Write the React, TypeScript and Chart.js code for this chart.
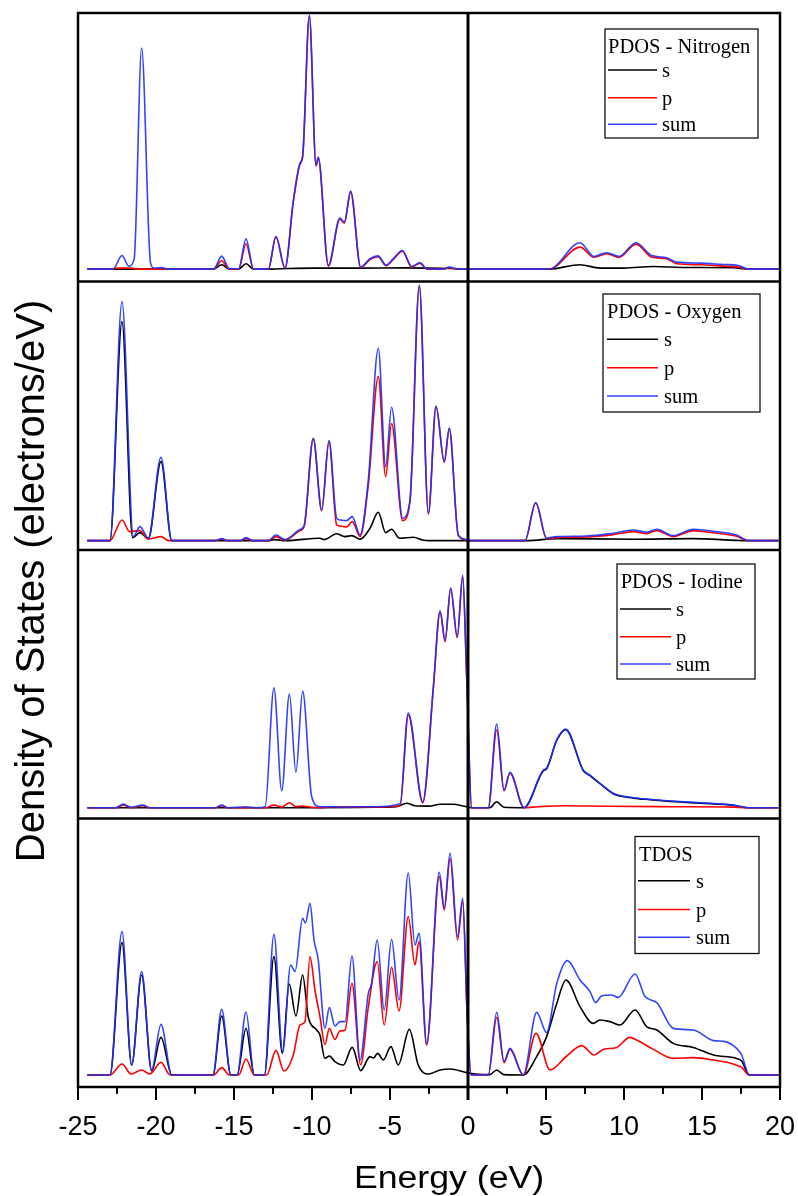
import { useEffect, useRef } from "react";
import { Chart, registerables } from "chart.js";

Chart.register(...registerables);

type Pt = [number, number];

// Energy axis (eV)
const energyMin = -25;
const energyMax = 20;
const energyStep = 5;

// ---- Nitrogen PDOS: [energy (eV), DOS] ----
const nitrogenS: Pt[] = [
  [-24.4, 0], [-16.3, 0], [-15.79, 0.22], [-15.3, 0], [-14.7, 0], [-14.23, 0.27], [-13.75, 0],
  [-12.6, 0], [-11.5, 0.03], [-10, 0.05], [-7, 0.05], [-4, 0.06], [-1, 0.03], [0, 0],
  [5.2, 0], [7.18, 0.22], [8.46, 0.05], [10, 0.05], [11.86, 0.13], [14, 0.08], [17, 0.07],
  [17.97, 0], [19.9, 0],
];
const nitrogenP: Pt[] = [
  [-24.4, 0], [-22.8, 0], [-22.5, 0.05], [-21.6, 0.05], [-21.3, 0], [-16.3, 0], [-15.79, 0.42],
  [-15.3, 0], [-14.7, 0], [-14.23, 1.27], [-13.75, 0], [-12.8, 0], [-12.31, 1.6], [-11.73, 0.04],
  [-11.2, 3.35], [-10.77, 5.25], [-10.6, 5.6], [-10.17, 12.65], [-9.74, 5.15], [-9.6, 5.55],
  [-8.95, 0.15], [-8.21, 2.5], [-7.93, 2.3], [-7.52, 3.85], [-6.88, 0.07], [-6.28, 0.48],
  [-5.77, 0.62], [-5.25, 0.17], [-4.79, 0.48], [-4.21, 0.9], [-3.61, 0.1], [-3.08, 0.3],
  [-2.65, 0], [-1.6, 0], [-1.2, 0.07], [-0.72, 0], [5.2, 0], [7.18, 1.1], [8.08, 0.6],
  [8.89, 0.77], [9.68, 0.58], [10.77, 1.25], [11.77, 0.6], [12.73, 0.52], [13.37, 0.27],
  [14.87, 0.22], [16.37, 0.15], [17.33, 0.1], [17.97, 0], [19.9, 0],
];
const nitrogenSum: Pt[] = [
  [-24.4, 0], [-22.75, 0], [-22.18, 0.68], [-21.75, 0.15], [-21.4, 0.5], [-20.92, 11.05],
  [-20.35, 0.3], [-20.1, 0.05], [-19.64, 0.08], [-19.3, 0], [-16.3, 0], [-15.79, 0.65],
  [-15.3, 0.02], [-14.7, 0.02], [-14.23, 1.52], [-13.75, 0], [-12.8, 0], [-12.31, 1.63],
  [-11.73, 0.05], [-11.2, 3.4], [-10.77, 5.3], [-10.6, 5.65], [-10.17, 12.7], [-9.74, 5.2],
  [-9.6, 5.6], [-8.95, 0.19], [-8.21, 2.55], [-7.93, 2.35], [-7.52, 3.9], [-6.88, 0.1],
  [-6.28, 0.52], [-5.77, 0.66], [-5.25, 0.2], [-4.79, 0.52], [-4.21, 0.93], [-3.61, 0.13],
  [-3.08, 0.32], [-2.65, 0.02], [-1.6, 0], [-1.2, 0.1], [-0.72, 0.01], [0, 0], [5.2, 0],
  [7.18, 1.32], [8.08, 0.63], [8.89, 0.82], [9.68, 0.63], [10.77, 1.32], [11.77, 0.68],
  [12.73, 0.57], [13.37, 0.35], [14.87, 0.3], [16.37, 0.23], [17.33, 0.18], [17.97, 0], [19.9, 0],
];

// ---- Oxygen PDOS ----
const oxygenS: Pt[] = [
  [-24.4, 0], [-22.95, 0], [-22.18, 10.95], [-21.5, 0.15], [-21.03, 0.4], [-20.49, 0.1],
  [-19.68, 3.95], [-18.99, 0], [-12.8, 0], [-12.4, 0.05], [-11.7, 0], [-9.5, 0.12], [-9.2, 0.05],
  [-8.42, 0.34], [-7.9, 0.2], [-7.45, 0.25], [-6.92, 0.07], [-6.28, 0.62], [-5.75, 1.42],
  [-5.28, 0.4], [-4.9, 0.57], [-4.4, 0.12], [-3.5, 0.17], [-2.9, 0.03], [-2.5, 0], [3.8, 0],
  [5.7, 0.1], [10.6, 0.07], [14.4, 0.1], [17.97, 0], [19.9, 0],
];
const oxygenP: Pt[] = [
  [-24.4, 0], [-22.95, 0], [-22.18, 1.03], [-21.7, 0.45], [-21.03, 0.5], [-20.5, 0.08],
  [-19.68, 0.2], [-19.2, 0], [-16.2, 0], [-15.79, 0.08], [-15.4, 0], [-14.6, 0], [-14.23, 0.1],
  [-13.8, 0], [-12.8, 0], [-12.31, 0.2], [-11.73, 0.03], [-10.77, 0.5], [-10.5, 0.72],
  [-9.92, 5.1], [-9.38, 1.5], [-8.91, 4.97], [-8.42, 0.78], [-8.21, 0.73], [-7.78, 0.68],
  [-7.42, 0.95], [-6.92, 0.2], [-6.39, 2.8], [-5.75, 8.2], [-5.28, 3.2], [-4.9, 5.85],
  [-4.19, 1.0], [-3.72, 1.95], [-3.12, 12.7], [-2.54, 1.33], [-2.05, 6.7], [-1.52, 3.92],
  [-1.2, 5.6], [-0.62, 0.25], [-0.08, 0.03], [0, 0], [3.65, 0], [4.34, 1.88], [5.04, 0.1],
  [5.69, 0.15], [7.6, 0.18], [9.31, 0.3], [10.6, 0.45], [11.45, 0.35], [12.1, 0.5],
  [13.16, 0.2], [14.44, 0.5], [15.83, 0.38], [17.22, 0.22], [17.97, 0], [19.9, 0],
];
const oxygenSum: Pt[] = [
  [-24.4, 0], [-22.95, 0], [-22.18, 11.95], [-21.45, 0.2], [-21.03, 0.7], [-20.49, 0.12],
  [-19.68, 4.17], [-18.99, 0], [-16.2, 0], [-15.79, 0.1], [-15.4, 0], [-14.6, 0], [-14.23, 0.15],
  [-13.8, 0], [-12.8, 0], [-12.31, 0.28], [-11.73, 0.05], [-10.77, 0.55], [-10.5, 0.75],
  [-9.92, 5.12], [-9.38, 1.53], [-8.91, 5.0], [-8.42, 1.12], [-8.21, 1.03], [-7.78, 1.0],
  [-7.42, 1.2], [-6.92, 0.28], [-6.39, 3.03], [-5.75, 9.62], [-5.28, 3.7], [-4.9, 6.67],
  [-4.19, 1.12], [-3.72, 2.03], [-3.12, 12.78], [-2.54, 1.37], [-2.05, 6.73], [-1.52, 3.95],
  [-1.2, 5.62], [-0.62, 0.28], [-0.08, 0.05], [0, 0], [3.65, 0], [4.34, 1.9], [5.04, 0.12],
  [5.69, 0.2], [7.6, 0.23], [9.31, 0.37], [10.6, 0.53], [11.45, 0.42], [12.1, 0.57],
  [13.16, 0.25], [14.44, 0.57], [15.83, 0.45], [17.22, 0.28], [17.97, 0], [19.9, 0],
];

// ---- Iodine PDOS ----
const iodineS: Pt[] = [
  [-24.4, 0], [-9.5, 0], [-6, 0.02], [-4.6, 0.05], [-3.93, 0.22], [-3.4, 0.1], [-2.5, 0.08],
  [-1.8, 0.17], [-1.0, 0.17], [-0.1, 0.05], [0.3, 0], [1.4, 0], [1.84, 0.3], [2.3, 0.02],
  [3.59, 0], [4.83, 1.85], [5.04, 1.95], [5.68, 3.35], [6.26, 3.9], [7.39, 1.85], [7.82, 1.6],
  [8.46, 1.2], [9.31, 0.7], [10.6, 0.48], [11.67, 0.4], [12.74, 0.33], [14.87, 0.23],
  [17.01, 0.12], [17.97, 0], [19.9, 0],
];
const iodineP: Pt[] = [
  [-24.4, 0], [-22.6, 0], [-22.09, 0.12], [-21.6, 0], [-20.85, 0.1], [-20.4, 0], [-16.2, 0],
  [-15.79, 0.1], [-15.4, 0], [-13.0, 0], [-12.44, 0.13], [-11.94, 0.03], [-11.45, 0.25],
  [-11.03, 0.05], [-10.6, 0.08], [-10.02, 0.02], [-9.5, 0], [-8.67, 0.05], [-7.5, 0.04],
  [-6, 0.04], [-4.35, 0.1], [-3.83, 4.63], [-2.9, 0.25], [-2.22, 6.0], [-1.79, 9.8],
  [-1.47, 8.3], [-1.11, 10.95], [-0.69, 8.5], [-0.34, 11.55], [-0.09, 6.65], [0.24, 0],
  [1.3, 0], [1.84, 3.9], [2.31, 0.85], [2.69, 1.72], [3.59, 0], [4.5, 0.05], [6.26, 0.1],
  [9, 0.07], [13, 0.05], [17, 0.03], [17.97, 0], [19.9, 0],
];
const iodineSum: Pt[] = [
  [-24.4, 0], [-22.6, 0], [-22.09, 0.18], [-21.6, 0.02], [-20.85, 0.13], [-20.4, 0],
  [-16.2, 0], [-15.79, 0.13], [-15.4, 0], [-14.23, 0.05], [-13.6, 0], [-13.0, 0.05],
  [-12.44, 6.0], [-11.94, 0.85], [-11.45, 5.68], [-11.03, 1.77], [-10.6, 5.83], [-10.02, 0.55],
  [-9.49, 0.05], [-8.67, 0.05], [-8, 0.02], [-7.5, 0.05], [-6, 0.05], [-4.35, 0.2],
  [-3.83, 4.75], [-2.9, 0.3], [-2.22, 6.05], [-1.79, 9.85], [-1.47, 8.38], [-1.11, 11.0],
  [-0.69, 8.55], [-0.34, 11.63], [-0.09, 6.7], [0.24, 0], [1.3, 0], [1.84, 4.18], [2.31, 0.88],
  [2.69, 1.77], [3.59, 0], [4.83, 1.88], [5.04, 1.97], [5.68, 3.38], [6.26, 3.93], [7.39, 1.88],
  [7.82, 1.63], [8.46, 1.22], [9.31, 0.72], [10.6, 0.5], [11.67, 0.42], [12.74, 0.35],
  [14.87, 0.25], [17.01, 0.13], [17.97, 0], [19.9, 0],
];

// ---- Total DOS ----
const totalS: Pt[] = [
  [-24.4, 0], [-22.95, 0], [-22.18, 6.62], [-21.56, 0.5], [-20.92, 5.0], [-20.28, 0.2],
  [-19.68, 1.88], [-18.99, 0], [-16.35, 0], [-15.79, 2.95], [-15.2, 0], [-14.8, 0],
  [-14.23, 2.33], [-13.7, 0], [-13.05, 0], [-12.44, 5.92], [-11.9, 1.08], [-11.46, 4.55],
  [-11.03, 2.95], [-10.6, 5.0], [-10.24, 2.9], [-9.7, 2.25], [-9.49, 2.0], [-9.17, 0.83],
  [-8.89, 0.95], [-8.53, 0.67], [-8.0, 0.5], [-7.42, 1.38], [-6.88, 0.22], [-6.28, 0.92],
  [-6.07, 0.85], [-5.79, 1.08], [-5.43, 0.75], [-4.94, 1.42], [-4.47, 0.5], [-3.76, 2.28],
  [-3.19, 0.5], [-2.54, 0.05], [-1.79, 0.25], [-1.15, 0.3], [-0.08, 0.12], [0.5, 0.05],
  [1.4, 0.02], [1.84, 0.25], [2.3, 0.02], [3.55, 0], [4.4, 0.92], [5.04, 1.92], [5.69, 3.58],
  [6.28, 4.75], [7.18, 3.42], [8.03, 2.58], [8.46, 2.75], [9.1, 2.67], [9.74, 2.5],
  [10.71, 3.25], [11.45, 2.42], [12.1, 2.25], [13.16, 1.58], [14.44, 1.38], [15.73, 1.0],
  [17.22, 0.83], [17.54, 0.7], [18.03, 0], [19.9, 0],
];
const totalP: Pt[] = [
  [-24.4, 0], [-22.95, 0], [-22.18, 0.55], [-21.6, 0.05], [-20.92, 0.25], [-20.4, 0.05],
  [-19.68, 0.63], [-19.1, 0], [-16.3, 0], [-15.79, 0.37], [-15.3, 0], [-14.7, 0], [-14.23, 0.8],
  [-13.7, 0], [-12.9, 0], [-12.31, 1.23], [-11.8, 0.2], [-11.2, 1.0], [-10.77, 2.5],
  [-10.45, 2.67], [-10.13, 5.92], [-9.81, 4.25], [-9.49, 2.92], [-9.17, 1.53], [-8.89, 2.33],
  [-8.53, 1.78], [-8.21, 2.2], [-7.88, 2.25], [-7.44, 4.58], [-6.88, 0.5], [-6.39, 3.4],
  [-5.82, 5.67], [-5.37, 2.5], [-4.9, 5.38], [-4.42, 3.2], [-3.83, 7.92], [-3.4, 5.5],
  [-3.14, 6.67], [-2.65, 1.5], [-1.84, 9.92], [-1.52, 8.25], [-1.15, 10.83], [-0.67, 6.75],
  [-0.34, 8.67], [-0.05, 2.9], [0.2, 0], [1.3, 0], [1.84, 2.88], [2.31, 0.62], [2.69, 1.28],
  [3.55, 0], [4.36, 2.08], [5.26, 0.25], [6.33, 0.95], [7.29, 1.47], [8.08, 1.0], [8.67, 1.28],
  [9.53, 1.38], [10.38, 1.88], [10.81, 1.75], [11.88, 1.28], [13.16, 0.83], [14.44, 0.87],
  [15.73, 0.75], [17.0, 0.55], [17.54, 0.38], [18.03, 0], [19.9, 0],
];
const totalSum: Pt[] = [
  [-24.4, 0], [-22.95, 0], [-22.18, 7.17], [-21.56, 0.5], [-20.92, 5.17], [-20.28, 0.25],
  [-19.68, 2.53], [-18.99, 0], [-16.35, 0], [-15.79, 3.28], [-15.2, 0], [-14.8, 0],
  [-14.23, 3.15], [-13.7, 0], [-13.05, 0], [-12.44, 7.03], [-11.88, 1.17], [-11.37, 5.5],
  [-11.09, 5.17], [-10.6, 7.83], [-10.42, 7.6], [-10.13, 8.58], [-9.87, 6.75], [-9.6, 5.75],
  [-9.17, 2.33], [-8.89, 3.37], [-8.53, 2.45], [-8.21, 2.67], [-7.88, 2.67], [-7.44, 5.95],
  [-6.92, 0.75], [-6.39, 4.08], [-6.18, 4.58], [-5.82, 6.75], [-5.37, 3.25], [-4.9, 6.78],
  [-4.42, 3.75], [-3.83, 10.1], [-3.4, 6.5], [-3.14, 7.08], [-2.65, 1.58], [-1.84, 10.13],
  [-1.52, 8.33], [-1.15, 11.1], [-0.67, 6.92], [-0.34, 8.83], [-0.05, 3.0], [0.2, 0], [1.3, 0],
  [1.84, 3.13], [2.31, 0.67], [2.69, 1.33], [3.55, 0], [4.4, 3.13], [5.04, 2.12], [5.69, 4.58],
  [6.37, 5.72], [7.18, 4.75], [7.82, 4.17], [8.18, 3.62], [8.56, 3.95], [9.2, 4.0], [9.63, 3.88],
  [10.71, 5.05], [11.35, 3.92], [12.1, 3.62], [13.16, 2.33], [14.44, 2.25], [15.73, 1.72],
  [16.47, 1.67], [17.22, 1.33], [17.54, 1.0], [18.03, 0], [19.9, 0],
];

const seriesLabels = ["s", "p", "sum"];
const seriesColors = ["#000000", "#ff0000", "rgba(28,48,255,0.9)"];

// Panels from top to bottom
const panelTitles = ["PDOS - Nitrogen", "PDOS - Oxygen", "PDOS - Iodine", "TDOS"];
const panelSeries: Pt[][][] = [
  [nitrogenS, nitrogenP, nitrogenSum],
  [oxygenS, oxygenP, oxygenSum],
  [iodineS, iodineP, iodineSum],
  [totalS, totalP, totalSum],
];
const panelYMin = [-0.62, -0.47, -0.54, -0.6];
const panelSpan = 13.425;

// Legend box geometry per panel (px, relative to plot right edge / panel top)
const legendBoxes = [
  { right: 22, top: 16, w: 153, h: 109, titleX: 3, titleY: 23.5, rows: [41, 68.7, 95.3], lx0: 3, lx1: 52, tx: 57 },
  { right: 20, top: 12.5, w: 157, h: 118, titleX: 4, titleY: 24.3, rows: [45.3, 73.7, 102], lx0: 4, lx1: 55, tx: 61 },
  { right: 25, top: 14, w: 138, h: 115, titleX: 3.7, titleY: 24.3, rows: [45, 72.7, 100], lx0: 3, lx1: 54, tx: 59 },
  { right: 21, top: 18, w: 124, h: 117, titleX: 4, titleY: 24, rows: [44.3, 73, 100.7], lx0: 3, lx1: 55, tx: 61 },
];

const axisFont = "'Liberation Sans', Arial, sans-serif";
const legendFont = "'Liberation Serif', 'Times New Roman', serif";
const yIds = ["yN", "yO", "yI", "yT"];

const framePlugin = {
  id: "dosFrame",
  afterDraw(chart: any) {
    const { ctx, chartArea: a, scales } = chart;
    const xs = scales.x;
    const line = (x0: number, y0: number, x1: number, y1: number) => {
      ctx.beginPath();
      ctx.moveTo(x0, y0);
      ctx.lineTo(x1, y1);
      ctx.stroke();
    };
    ctx.save();
    ctx.strokeStyle = "#000";
    ctx.lineCap = "butt";

    // bottom-axis ticks (major + minor)
    ctx.lineWidth = 2;
    for (let v = energyMin; v <= energyMax + 1e-9; v += energyStep / 2) {
      const px = xs.getPixelForValue(v);
      const major = Math.abs(v / energyStep - Math.round(v / energyStep)) < 1e-6;
      line(px, a.bottom, px, a.bottom + (major ? 13 : 7));
    }

    // outer frame and panel separators
    ctx.lineWidth = 2.5;
    ctx.strokeRect(a.left, a.top, a.right - a.left, a.bottom - a.top);
    yIds.forEach((id, i) => {
      if (i > 0) line(a.left, scales[id].top, a.right, scales[id].top);
    });

    // Fermi level
    ctx.lineWidth = 3;
    const x0 = xs.getPixelForValue(0);
    line(x0, a.top, x0, a.bottom + 13);

    // legends
    yIds.forEach((id, i) => {
      const b = legendBoxes[i];
      const left = a.right - b.right - b.w;
      const top = scales[id].top + b.top;
      ctx.fillStyle = "#fff";
      ctx.fillRect(left, top, b.w, b.h);
      ctx.strokeStyle = "#111";
      ctx.lineWidth = 1.3;
      ctx.strokeRect(left, top, b.w, b.h);
      ctx.fillStyle = "#000";
      ctx.font = `20.5px ${legendFont}`;
      ctx.textBaseline = "alphabetic";
      ctx.textAlign = "left";
      ctx.fillText(panelTitles[i], left + b.titleX, top + b.titleY);
      seriesLabels.forEach((lab, k) => {
        const ry = top + b.rows[k];
        ctx.strokeStyle = seriesColors[k];
        ctx.lineWidth = 1.6;
        line(left + b.lx0, ry, left + b.lx1, ry);
        ctx.fillText(lab, left + b.tx, ry + 7);
      });
    });

    // axis titles
    ctx.fillStyle = "#000";
    ctx.textAlign = "center";
    ctx.textBaseline = "alphabetic";
    ctx.save();
    ctx.translate(449, 1188);
    ctx.scale(1.15, 1);
    ctx.font = `31px ${axisFont}`;
    ctx.fillText("Energy (eV)", 0, 0);
    ctx.restore();
    ctx.save();
    ctx.translate(44, 581);
    ctx.rotate(-Math.PI / 2);
    ctx.font = `40px ${axisFont}`;
    ctx.fillText("Density of States (electrons/eV)", 0, 0);
    ctx.restore();

    ctx.restore();
  },
};

export default function App() {
  const ref = useRef<HTMLCanvasElement | null>(null);

  useEffect(() => {
    if (!ref.current) return;
    const datasets: any[] = [];
    panelSeries.forEach((series, i) => {
      series.forEach((pts, k) => {
        datasets.push({
          label: `${panelTitles[i]} ${seriesLabels[k]}`,
          data: pts.map(([x, y]) => ({ x, y })),
          yAxisID: yIds[i],
          borderColor: seriesColors[k],
          borderWidth: 1.6,
          pointRadius: 0,
          fill: false,
          cubicInterpolationMode: "monotone",
          order: 3 - k,
        });
      });
    });

    const scales: any = {
      x: {
        type: "linear",
        position: "bottom",
        min: energyMin,
        max: energyMax,
        grid: { display: false },
        border: { display: false },
        ticks: {
          stepSize: energyStep,
          color: "#000",
          font: { family: axisFont, size: 27 },
          padding: 16,
          maxRotation: 0,
          autoSkip: false,
        },
        afterFit: (s: any) => {
          s.height = 109;
          s.paddingLeft = 0;
          s.paddingRight = 0;
        },
      },
    };
    // stacked panels are laid out bottom-up, so register the bottom panel first
    [...yIds].reverse().forEach((id) => {
      const i = yIds.indexOf(id);
      scales[id] = {
        type: "linear",
        position: "left",
        stack: "dos",
        stackWeight: 1,
        offset: false,
        min: panelYMin[i],
        max: panelYMin[i] + panelSpan,
        grid: { display: false },
        border: { display: false },
        ticks: { display: false },
        afterFit: (s: any) => {
          s.width = 0;
        },
      };
    });

    const chart = new Chart(ref.current, {
      type: "line",
      data: { datasets },
      options: {
        responsive: false,
        animation: false,
        devicePixelRatio: 1,
        layout: { padding: { left: 78, right: 18, top: 13, bottom: 0 } },
        plugins: { legend: { display: false }, tooltip: { enabled: false } },
        scales,
      },
      plugins: [framePlugin],
    });
    return () => chart.destroy();
  }, []);

  return (
    <div style={{ position: "absolute", left: 0, top: 0, width: 798, height: 1196, background: "#fff" }}>
      <canvas ref={ref} width={798} height={1196} style={{ display: "block" }} />
    </div>
  );
}
